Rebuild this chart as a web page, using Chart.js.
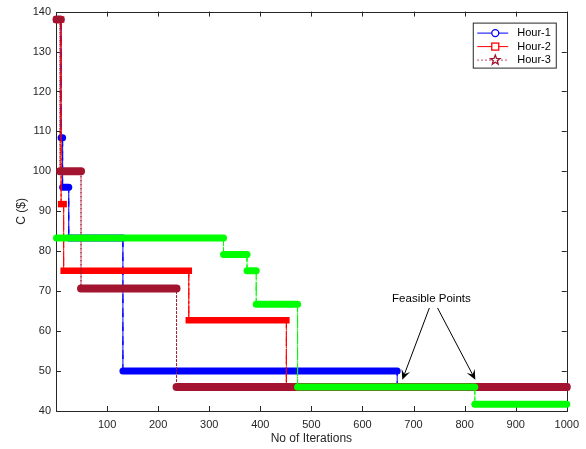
<!DOCTYPE html>
<html lang="en">
<head>
<meta charset="UTF-8">
<title>Cost vs iterations</title>
<style>
  html, body { margin: 0; padding: 0; background: #fff; }
  #wrap { width: 586px; height: 449px; }
</style>
<script src="https://cdn.jsdelivr.net/npm/chart.js"></script>
</head>
<body>
<div id="wrap"><canvas id="costChart" width="586" height="449"></canvas></div>
<script>
// step curves: each pair of points is one flat level, jumps are the vertical links
const hour1Iter = [1, 10, 10, 13, 13, 25, 25, 131, 131, 668, 668, 1000];
const hour1Cost = [138, 138, 108.4, 108.4, 96, 96, 83.3, 83.3, 50, 50, 46, 46];

const hour2Iter = [1, 10, 10, 15, 15, 260, 260, 451, 451, 1000];
const hour2Cost = [138, 138, 91.8, 91.8, 75.1, 75.1, 62.7, 62.7, 46, 46];

const hour3Iter = [1, 8, 8, 49, 49, 236, 236, 1000];
const hour3Cost = [138, 138, 100, 100, 70.7, 70.7, 46, 46];

// fourth run (not in the legend)
const hour4Iter = [1, 328, 328, 374, 374, 392, 392, 473, 473, 820, 820, 1000];
const hour4Cost = [83.3, 83.3, 79.2, 79.2, 75.1, 75.1, 66.7, 66.7, 46, 46, 41.7, 41.7];

const xTicks = [100, 200, 300, 400, 500, 600, 700, 800, 900, 1000];
const legendLabels = ['Hour-1', 'Hour-2', 'Hour-3'];

// "Feasible Points" note, in data units
const noteText = 'Feasible Points';
const noteAt = [735, 68];
const arrowFrom = [[731, 65.8], [747, 65.8]];
const arrowTo = [[678, 47.8], [821, 47.8]];

const axisColor = '#262626';
const FONT = '"Liberation Sans", Arial, Helvetica, sans-serif';

function pts(xs, ys) {
    return xs.map((x, i) => ({ x: x, y: ys[i] }));
}

// flat parts are thick (dense markers), jumps are thin styled lines
function stepStyle(dash, cap, thick) {
    const flat = c => c.p0.parsed.y === c.p1.parsed.y;
    return {
        borderWidth: c => flat(c) ? thick : 1,
        borderDash: c => flat(c) ? [] : dash,
        borderCapStyle: c => flat(c) ? cap : 'butt'
    };
}

function series(label, xs, ys, color, dash, cap, thick, order) {
    return {
        label: label,
        data: pts(xs, ys),
        borderColor: color,
        backgroundColor: color,
        borderWidth: 1,
        pointRadius: 0,
        pointHitRadius: 0,
        tension: 0,
        fill: false,
        clip: false,
        order: order,
        segment: stepStyle(dash, cap, thick)
    };
}

function drawStar(ctx, x, y, r) {
    ctx.beginPath();
    for (let i = 0; i < 10; i++) {
        const rr = i % 2 === 0 ? r : r * 0.42;
        const a = -Math.PI / 2 + i * Math.PI / 5;
        const px = x + rr * Math.cos(a), py = y + rr * Math.sin(a);
        if (i === 0) ctx.moveTo(px, py); else ctx.lineTo(px, py);
    }
    ctx.closePath();
}

// matlab style box with inward ticks, drawn under the data
const axesBox = {
    id: 'axesBox',
    beforeDatasetsDraw(chart) {
        const { ctx, chartArea: a, scales } = chart;
        ctx.save();
        ctx.strokeStyle = axisColor;
        ctx.lineWidth = 1;
        ctx.strokeRect(Math.round(a.left) + 0.5, Math.round(a.top) + 0.5,
            Math.round(a.right - a.left), Math.round(a.bottom - a.top));
        ctx.beginPath();
        scales.x.ticks.forEach(t => {
            const px = Math.round(scales.x.getPixelForValue(t.value)) + 0.5;
            ctx.moveTo(px, a.bottom); ctx.lineTo(px, a.bottom - 5);
            ctx.moveTo(px, a.top); ctx.lineTo(px, a.top + 5);
        });
        scales.y.ticks.forEach(t => {
            const py = Math.round(scales.y.getPixelForValue(t.value)) + 0.5;
            ctx.moveTo(a.left, py); ctx.lineTo(a.left + 5, py);
            ctx.moveTo(a.right, py); ctx.lineTo(a.right - 5, py);
        });
        ctx.stroke();
        ctx.restore();
    }
};

const legendAndNote = {
    id: 'legendAndNote',
    afterDraw(chart) {
        const { ctx, chartArea: a, scales } = chart;
        ctx.save();

        // legend box
        const bx = a.right - 93.5, by = a.top + 11.5, bw = 83, bh = 45;
        ctx.fillStyle = '#fff';
        ctx.fillRect(bx, by, bw, bh);
        ctx.strokeStyle = axisColor;
        ctx.lineWidth = 1;
        ctx.strokeRect(bx, by, bw, bh);

        const colors = ['#0000ff', '#ff0000', '#a2142f'];
        ctx.font = '11px ' + FONT;
        ctx.textBaseline = 'middle';
        legendLabels.forEach((lab, i) => {
            const y = by + 10 + i * 13.5;
            ctx.strokeStyle = colors[i];
            ctx.lineWidth = 1;
            ctx.setLineDash(i === 2 ? [1.5, 2.5] : []);
            ctx.beginPath();
            ctx.moveTo(bx + 4, y); ctx.lineTo(bx + 35, y);
            ctx.stroke();
            ctx.setLineDash([]);
            const mx = bx + 22;
            ctx.fillStyle = '#fff';
            ctx.lineWidth = 1.3;
            if (i === 0) {
                ctx.beginPath(); ctx.arc(mx, y, 3.5, 0, Math.PI * 2);
                ctx.fill(); ctx.stroke();
            } else if (i === 1) {
                ctx.fillRect(mx - 3.5, y - 3.5, 7, 7);
                ctx.strokeRect(mx - 3.5, y - 3.5, 7, 7);
            } else {
                drawStar(ctx, mx, y, 5);
                ctx.fill(); ctx.stroke();
            }
            ctx.fillStyle = '#000';
            ctx.fillText(lab, bx + 44, y);
        });

        // annotation text and arrows
        const X = v => scales.x.getPixelForValue(v);
        const Y = v => scales.y.getPixelForValue(v);
        ctx.fillStyle = '#000';
        ctx.textAlign = 'center';
        ctx.font = '11.5px ' + FONT;
        ctx.fillText(noteText, X(noteAt[0]), Y(noteAt[1]));

        ctx.strokeStyle = '#000';
        ctx.lineWidth = 1;
        arrowFrom.forEach((f, i) => {
            const x0 = X(f[0]), y0 = Y(f[1]);
            const x1 = X(arrowTo[i][0]), y1 = Y(arrowTo[i][1]);
            const ang = Math.atan2(y1 - y0, x1 - x0);
            const len = 10, half = 4.5;
            const bxp = x1 - len * Math.cos(ang), byp = y1 - len * Math.sin(ang);
            ctx.beginPath();
            ctx.moveTo(x0, y0);
            ctx.lineTo(x1 - 4 * Math.cos(ang), y1 - 4 * Math.sin(ang));
            ctx.stroke();
            ctx.beginPath();
            ctx.moveTo(x1, y1);
            ctx.lineTo(bxp + half * Math.sin(ang), byp - half * Math.cos(ang));
            ctx.lineTo(x1 - 6 * Math.cos(ang), y1 - 6 * Math.sin(ang));
            ctx.lineTo(bxp - half * Math.sin(ang), byp + half * Math.cos(ang));
            ctx.closePath();
            ctx.fill();
        });
        ctx.restore();
    }
};

const tickFont = { family: FONT, size: 11 };

new Chart(document.getElementById('costChart'), {
    type: 'line',
    data: {
        datasets: [
            series('Hour-1', hour1Iter, hour1Cost, '#0000ff', [9, 5], 'round', 7, 4),
            series('Hour-2', hour2Iter, hour2Cost, '#ff0000', [10, 3, 2, 3], 'square', 6.5, 3),
            series('Hour-3', hour3Iter, hour3Cost, '#a2142f', [1.5, 2.5], 'round', 8, 2),
            series('Hour-4', hour4Iter, hour4Cost, '#00ff00', [8, 3, 2, 3], 'round', 7, 1)
        ]
    },
    options: {
        responsive: false,
        animation: false,
        events: [],
        layout: { padding: { top: 9, right: 19, left: 0, bottom: 0 } },
        plugins: {
            legend: { display: false },
            tooltip: { enabled: false }
        },
        scales: {
            x: {
                type: 'linear',
                min: 0,
                max: 1000,
                afterFit: s => { s.height = 38; },
                afterBuildTicks: s => { s.ticks = xTicks.map(v => ({ value: v })); },
                grid: { display: false, drawTicks: false },
                border: { display: false },
                ticks: {
                    font: tickFont, color: axisColor, padding: 7, maxRotation: 0, autoSkip: false,
                    callback: v => String(v)
                },
                title: {
                    display: true, text: 'No of Iterations', color: axisColor,
                    font: { family: FONT, size: 12 }, padding: { top: 0, bottom: 3 }
                }
            },
            y: {
                type: 'linear',
                min: 40,
                max: 140,
                afterFit: s => { s.width = 56; },
                grid: { display: false, drawTicks: false },
                border: { display: false },
                ticks: { stepSize: 10, font: tickFont, color: axisColor, padding: 5, callback: v => String(v) },
                title: {
                    display: true, text: 'C ($)', color: axisColor,
                    font: { family: FONT, size: 12 }, padding: { top: 14, bottom: 0 }
                }
            }
        }
    },
    plugins: [axesBox, legendAndNote]
});
</script>
</body>
</html>
